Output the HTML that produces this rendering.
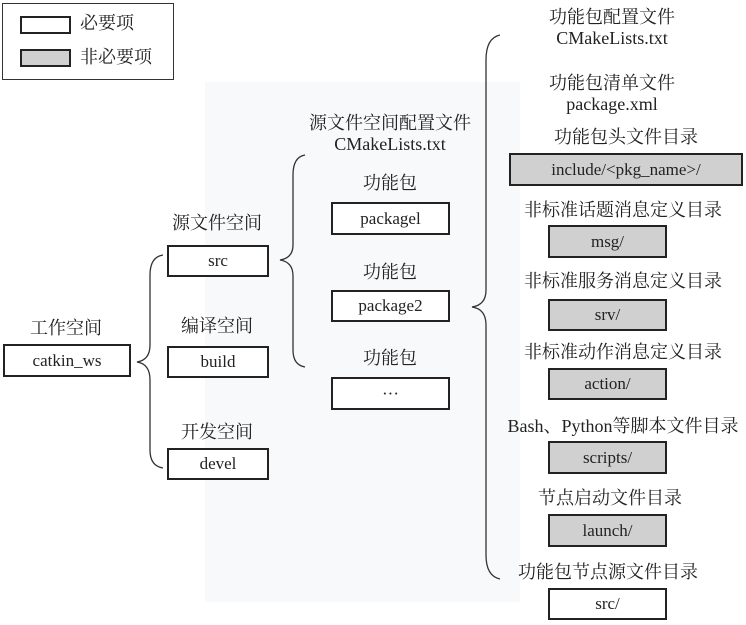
<!DOCTYPE html>
<html><head><meta charset="utf-8"><style>
body{margin:0;width:746px;height:625px;background:#fff;position:relative;overflow:hidden;font-family:"Liberation Serif","Noto Serif CJK SC",serif;color:#222;}
.b{position:absolute;border:2px solid #222;box-sizing:border-box;display:flex;align-items:center;justify-content:center;font-size:17px;background:#fff;}
.g{background:#d0d0d0;}
.t{position:absolute;font-size:18px;white-space:nowrap;transform:translateX(-50%);line-height:21px;text-align:center;}
</style></head><body>
<div style="position:absolute;left:205px;top:82px;width:315px;height:520px;background:#f8f9fb"></div>
<div style="position:absolute;left:2px;top:3px;width:172px;height:77px;border:1.5px solid #333;box-sizing:border-box"></div>
<div class="b" style="left:20px;top:16px;width:51px;height:18px"></div>
<div class="b g" style="left:20px;top:49px;width:51px;height:18px"></div>
<div class="t" style="left:80px;top:13px;transform:none">必要项</div>
<div class="t" style="left:80px;top:47px;transform:none">非必要项</div>

<div class="t" style="left:66px;top:318px">工作空间</div>
<div class="b" style="left:3px;top:344px;width:128px;height:33px">catkin_ws</div>
<div class="t" style="left:217px;top:213px">源文件空间</div>
<div class="b" style="left:167px;top:245px;width:102px;height:32px">src</div>
<div class="t" style="left:217px;top:316px">编译空间</div>
<div class="b" style="left:167px;top:346px;width:102px;height:32px">build</div>
<div class="t" style="left:217px;top:422px">开发空间</div>
<div class="b" style="left:167px;top:448px;width:102px;height:32px">devel</div>

<div class="t" style="left:390px;top:113px">源文件空间配置文件<br>CMakeLists.txt</div>
<div class="t" style="left:390px;top:173px">功能包</div>
<div class="b" style="left:331px;top:202px;width:119px;height:33px">packagel</div>
<div class="t" style="left:390px;top:262px">功能包</div>
<div class="b" style="left:331px;top:290px;width:119px;height:32px">package2</div>
<div class="t" style="left:390px;top:348px">功能包</div>
<div class="b" style="left:331px;top:377px;width:119px;height:33px">···</div>

<div class="t" style="left:612px;top:7px">功能包配置文件<br>CMakeLists.txt</div>
<div class="t" style="left:612px;top:73px">功能包清单文件<br>package.xml</div>
<div class="t" style="left:626px;top:127px">功能包头文件目录</div>
<div class="b g" style="left:509px;top:153px;width:234px;height:33px">include/&lt;pkg_name&gt;/</div>
<div class="t" style="left:623px;top:200px">非标准话题消息定义目录</div>
<div class="b g" style="left:548px;top:225px;width:119px;height:33px">msg/</div>
<div class="t" style="left:623px;top:271px">非标准服务消息定义目录</div>
<div class="b g" style="left:548px;top:299px;width:119px;height:32px">srv/</div>
<div class="t" style="left:623px;top:342px">非标准动作消息定义目录</div>
<div class="b g" style="left:548px;top:368px;width:119px;height:32px">action/</div>
<div class="t" style="left:623px;top:416px">Bash、Python等脚本文件目录</div>
<div class="b g" style="left:548px;top:441px;width:119px;height:33px">scripts/</div>
<div class="t" style="left:610px;top:488px">节点启动文件目录</div>
<div class="b g" style="left:548px;top:514px;width:119px;height:33px">launch/</div>
<div class="t" style="left:608px;top:562px">功能包节点源文件目录</div>
<div class="b" style="left:548px;top:588px;width:119px;height:32px">src/</div>

<svg width="746" height="625" style="position:absolute;left:0;top:0" fill="none" stroke="#333" stroke-width="1.3">
<path d="M163,255 Q150,257 150,275 L150,345 Q150,360 137,362 Q150,364 150,380 L150,450 Q150,466 163,468"/>
<path d="M305,155 Q293,157 293,175 L293,245 Q293,258 280,260 Q293,262 293,276 L293,350 Q293,365 305,367"/>
<path d="M500,35 Q486,38 486,60 L486,290 Q486,305 472,307 Q486,309 486,325 L486,555 Q486,576 500,579"/>
</svg>
</body></html>
